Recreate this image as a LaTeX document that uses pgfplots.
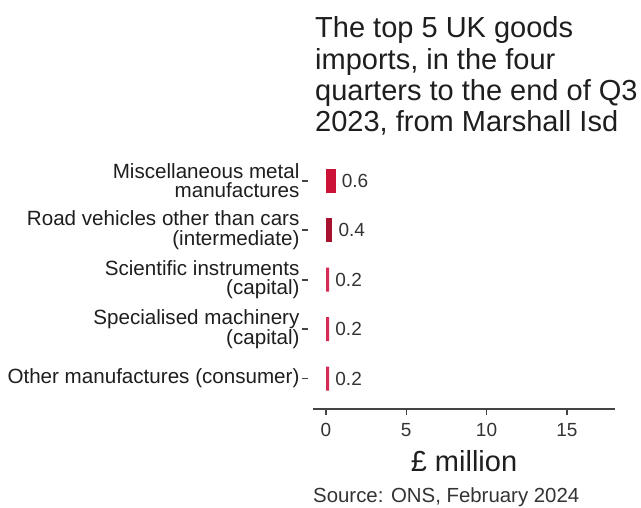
\documentclass[border=0pt]{standalone}
\usepackage{pgfplots}
\pgfplotsset{compat=1.18}
\usepackage{fontspec}
\setmainfont{Liberation Sans}
\definecolor{barA}{HTML}{CC1236}
\definecolor{barB}{HTML}{A8122F}
\definecolor{barC}{HTML}{D42A55}
\definecolor{txt}{HTML}{1E1E1E}
\definecolor{lab}{HTML}{333333}
\definecolor{axgray}{HTML}{444444}
\begin{document}
\begin{tikzpicture}[x=1pt,y=1pt]
\useasboundingbox (0,0) rectangle (641,507);
\begin{scope}[every node/.style={anchor=base west, inner sep=0pt, text=txt, font=\fontsize{29}{32}\selectfont}]
\node at (315,469) {The top 5 UK goods};
\node at (315,437) {imports, in the four};
\node at (315,406) {quarters to the end of Q3};
\node at (315,375) {2023, from Marshall Isd};
\end{scope}
\begin{axis}[
  at={(313pt,98pt)}, anchor=south west,
  scale only axis, width=302pt, height=258pt,
  xmin=-0.81, xmax=18, ymin=-0.616, ymax=4.6,
  xbar, bar width=24pt,
  axis x line*=bottom, axis y line*=left,
  x axis line style={line width=2pt, draw=axgray, -},
  y axis line style={draw=none},
  tick align=outside,
  major tick length=6pt,
  xtick={0,5,10,15},
  ytick={0,1,2,3,4},
  yticklabels={Other manufactures (consumer), {Specialised machinery\\(capital)}, {Scientific instruments\\(capital)}, {Road vehicles other than cars\\(intermediate)}, {Miscellaneous metal\\manufactures}},
  yticklabel style={align=right, font=\fontsize{20.6}{19.5}\selectfont, text=txt, xshift=-4pt},
  xticklabel style={font=\fontsize{19}{19}\selectfont, text=lab, yshift=-5pt},
  /pgf/number format/assume math mode=true,
  xtick style={line width=1.5pt, draw=axgray},
  ytick style={line width=1.8pt, draw=axgray, xshift=-5pt},
  nodes near coords,
  nodes near coords style={anchor=west, inner sep=0pt, xshift=6pt, font=\fontsize{19}{19}\selectfont, text=lab, /pgf/number format/fixed, /pgf/number format/precision=1},
  clip=false,
]
\addplot[fill=barA, draw=none, bar shift=0pt] coordinates {(0.6,4)};
\addplot[fill=barB, draw=none, bar shift=0pt] coordinates {(0.4,3)};
\addplot[fill=barC, draw=none, bar shift=0pt] coordinates {(0.2,2) (0.2,1) (0.2,0)};
\end{axis}
\node[anchor=base, inner sep=0pt, text=txt, font=\fontsize{29}{29}\selectfont] at (464,35) {£ million};
\node[anchor=base west, inner sep=0pt, text=lab, font=\fontsize{20.4}{20}\selectfont] at (313,5) {Source: ONS, February 2024};
\end{tikzpicture}
\end{document}
